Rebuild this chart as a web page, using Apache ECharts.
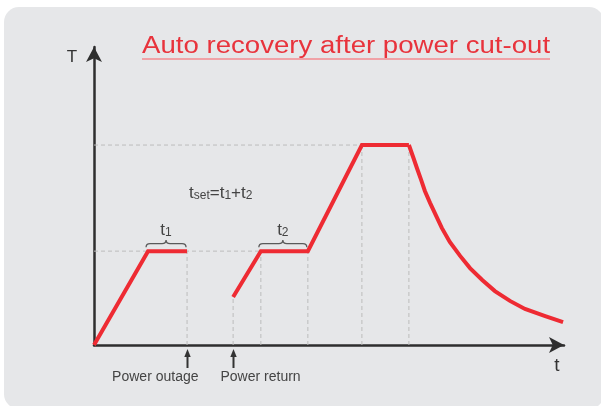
<!DOCTYPE html>
<html><head><meta charset="utf-8">
<script src="https://cdn.jsdelivr.net/npm/echarts@6/dist/echarts.min.js"></script>
<style>html,body{margin:0;padding:0;background:#fff}#c{width:601px;height:406px}</style>
</head><body><div id="c"></div>
<script>
// ---- data (abstract units: time 0..100, temperature 0..100) ----
const firstRun = [[0, 0], [11.5, 31.5], [19.8, 31.5]];
const afterReturn = [[29.6, 16.1], [35.5, 31.5], [45.5, 31.5], [57.0, 67.1], [67.0, 67.1]];
const coolingCurve = [[67.0, 67.1], [67.9, 63.1], [68.7, 59.4], [69.6, 55.4], [70.4, 51.7], [71.5, 47.7],
  [72.8, 43.3], [74.0, 39.3], [75.7, 34.6], [77.9, 29.9], [80.0, 25.8], [82.6, 21.8], [85.3, 18.1],
  [88.5, 14.8], [91.7, 12.1], [96.0, 9.7], [99.8, 7.7]];
const hGuides = [[31.5, 0, 45.5], [67.1, 0, 57.0]];          // [y, xFrom, xTo]
const vGuides = [[19.8, 31.5], [29.6, 16.1], [35.5, 31.5], [45.5, 31.5], [57.0, 67.1], [67.0, 67.1]]; // [x, yTop]
const braces = [[11.5, 19.8, 31.5], [35.5, 45.5, 31.5]];     // [xStart, xEnd, level]
const braceLabels = ['1', '2'];
const events = [[19.8, 0], [29.6, 0]];
const eventLabels = ['Power outage', 'Power return'];
const titleText = 'Auto recovery after power cut-out';
const formulaParts = ['t', 'set', '=t', '1', '+t', '2'];

// ---- styles ----
const RED = '#ee2b33';
const AXIS = '#2e2e2e';
const GUIDE = '#bcbcbc';
const TXT = '#444';
const FONT = '"Liberation Sans", Arial, sans-serif';
const eventLabelAlign = ['right', 'left'];
const eventLabelDx = [11, -13];
const richSub = {
  m: {fontSize: 17, fontFamily: FONT, fill: TXT, lineHeight: 18, verticalAlign: 'bottom'},
  s: {fontSize: 12, fontFamily: FONT, fill: TXT, lineHeight: 11, verticalAlign: 'bottom'}
};

const chart = echarts.init(document.getElementById('c'), null, {renderer: 'canvas'});

const series = [];
hGuides.forEach(g => series.push({
  type: 'line', silent: true, symbol: 'none', z: 1,
  data: [[g[1], g[0]], [g[2], g[0]]],
  lineStyle: {color: GUIDE, width: 1, type: [4, 3]}
}));
vGuides.forEach(g => series.push({
  type: 'line', silent: true, symbol: 'none', z: 1,
  data: [[g[0], 0], [g[0], g[1]]],
  lineStyle: {color: GUIDE, width: 1, type: [4, 3]}
}));
[firstRun, afterReturn, coolingCurve].forEach(d => series.push({
  type: 'line', silent: true, symbol: 'none', z: 5, data: d,
  lineStyle: {color: RED, width: 4, cap: 'butt', join: 'miter'}
}));
series.push({
  type: 'custom', silent: true, z: 6, data: braces, encode: {x: [0, 1], y: 2},
  renderItem: function (params, api) {
    const a = api.coord([api.value(0), api.value(2)]);
    const b = api.coord([api.value(1), api.value(2)]);
    const xs = a[0] - 2, xe = b[0] - 1, yb = a[1] - 4, h = 3.6, w = xe - xs;
    const m = w / 2, r = 4;
    const pd = `M0 ${2*h} Q0 ${h} ${r} ${h} L${m-r} ${h} Q${m} ${h} ${m} 0 Q${m} ${h} ${m+r} ${h} L${w-r} ${h} Q${w} ${h} ${w} ${2*h}`;
    return {type: 'group', children: [
      {type: 'path', shape: {pathData: pd, x: xs, y: yb - 2*h, width: w, height: 2*h, layout: 'cover'},
        style: {fill: 'none', stroke: '#5a5a5a', lineWidth: 1.3}},
      {type: 'text', x: xs + m, y: yb - 2*h - 10, style: {
        text: '{m|t}{s|' + braceLabels[params.dataIndex] + '}', align: 'center', verticalAlign: 'middle',
        rich: richSub
      }}
    ]};
  }
});
series.push({
  type: 'custom', silent: true, z: 6, data: events, encode: {x: 0, y: 1},
  renderItem: function (params, api) {
    const p = api.coord([api.value(0), api.value(1)]);
    const i = params.dataIndex;
    const x = Math.round(p[0]) + 0.5, y0 = p[1];
    return {type: 'group', children: [
      {type: 'line', shape: {x1: x, y1: y0 + 10, x2: x, y2: y0 + 23}, style: {stroke: '#333', lineWidth: 2}},
      {type: 'polygon', shape: {points: [[x, y0 + 4], [x - 3.2, y0 + 12], [x + 3.2, y0 + 12]]}, style: {fill: '#333'}},
      {type: 'text', x: x + eventLabelDx[i], y: y0 + 32, style: {
        text: eventLabels[i], font: '14px ' + FONT, fill: TXT, align: eventLabelAlign[i],
        verticalAlign: 'middle'}}
    ]};
  }
});

chart.setOption({
  animation: false,
  backgroundColor: '#fff',
  grid: {left: 94, right: 37, top: 47, bottom: 61},
  xAxis: {
    type: 'value', min: 0, max: 100,
    axisLine: {show: true, onZero: false, symbol: ['none', 'arrow'], symbolSize: [12, 15],
      lineStyle: {color: AXIS, width: 2.5}},
    axisTick: {show: false}, axisLabel: {show: false}, splitLine: {show: false}
  },
  yAxis: {
    type: 'value', min: 0, max: 100,
    axisLine: {show: true, onZero: false, symbol: ['none', 'arrow'], symbolSize: [12, 15],
      lineStyle: {color: AXIS, width: 2.5}},
    axisTick: {show: false}, axisLabel: {show: false}, splitLine: {show: false}
  },
  graphic: [
    {type: 'rect', z: -10, silent: true, shape: {x: 4, y: 7, width: 600, height: 402, r: 15},
      style: {fill: '#e6e7e9'}},
    {type: 'text', x: 142, y: 47, scaleX: 1.2, z: 10, style: {
      text: titleText, font: '23px ' + FONT, fill: '#e8333c', verticalAlign: 'middle'}},
    {type: 'line', z: 10, shape: {x1: 142, y1: 59, x2: 550, y2: 59}, style: {stroke: '#f0a2a7', lineWidth: 2}},
    {type: 'text', x: 72, y: 57, z: 10, style: {text: 'T', font: '17px ' + FONT, fill: '#333', align: 'center', verticalAlign: 'middle'}},
    {type: 'text', x: 557, y: 366, z: 10, style: {text: 't', font: '19px ' + FONT, fill: '#333', align: 'center', verticalAlign: 'middle'}},
    {type: 'text', x: 189, y: 193, z: 10, style: {
      text: '{m|' + formulaParts[0] + '}{s|' + formulaParts[1] + '}{m|' + formulaParts[2] + '}{s|' + formulaParts[3] + '}{m|' + formulaParts[4] + '}{s|' + formulaParts[5] + '}',
      verticalAlign: 'middle', rich: richSub
    }}
  ],
  series: series
});
</script>
</body></html>
